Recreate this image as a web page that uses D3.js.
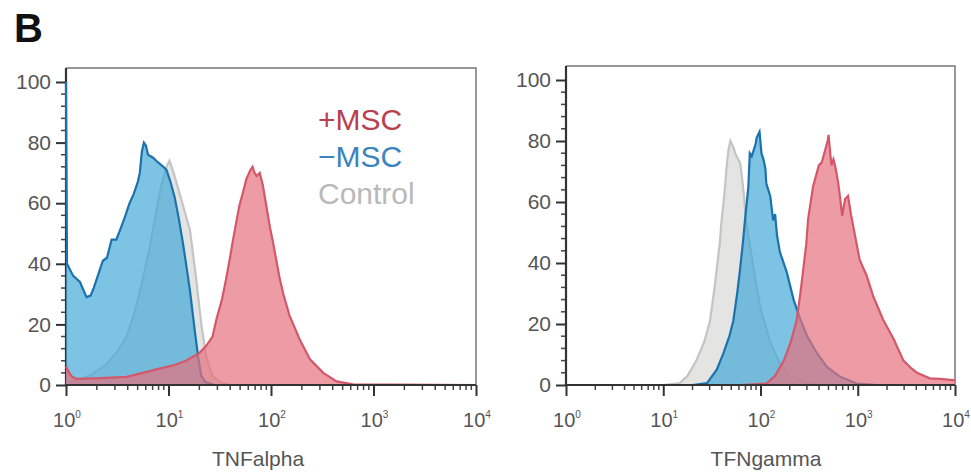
<!DOCTYPE html>
<html>
<head>
<meta charset="utf-8">
<script src="https://cdn.jsdelivr.net/npm/d3@7"></script>
<style>
  body { margin: 0; background: #fff; }
  svg { display: block; font-family: "Liberation Sans", Arial, sans-serif; }
</style>
</head>
<body>
<svg id="chart" width="971" height="475"></svg>
<script>
// [log10(intensity), % of max]
const tnfPlus = [[0,6],[0.05,3],[0.1,2],[0.3,2.2],[0.59,2.7],[0.75,4],[0.92,5.5],[1.05,6.5],[1.17,8],[1.3,10.5],[1.37,13],[1.43,16],[1.47,22],[1.52,28],[1.56,34.6],[1.6,42],[1.63,48],[1.69,59],[1.73,64],[1.76,68],[1.8,71],[1.82,72],[1.84,70],[1.86,69],[1.89,70],[1.92,66],[1.95,60],[1.99,52],[2.02,47],[2.08,36],[2.12,30],[2.18,23],[2.28,15],[2.38,8.5],[2.51,4],[2.64,1.2],[2.8,0.2],[4,0]];
const tnfMinus = [[0,100],[0.01,40],[0.07,36],[0.136,34],[0.2,29],[0.24,29.5],[0.27,32],[0.32,37],[0.36,41],[0.4,42],[0.445,48],[0.49,48],[0.526,51],[0.57,55],[0.62,60],[0.66,63],[0.7,67],[0.72,70],[0.74,77],[0.76,80],[0.78,79],[0.8,76],[0.85,75],[0.88,74],[0.915,73],[0.95,72],[0.98,71],[1.02,67],[1.06,62],[1.1,55],[1.14,47],[1.18,38],[1.21,31],[1.256,18],[1.29,9],[1.32,3],[1.36,1],[1.45,0]];
const tnfControl = [[0,1],[0.1,1.5],[0.23,3],[0.4,7],[0.5,11],[0.59,16],[0.67,24],[0.75,35],[0.82,46],[0.88,57],[0.93,66],[0.98,72],[1.01,74],[1.05,70],[1.11,63],[1.16,57],[1.21,51],[1.27,35],[1.32,20],[1.37,9],[1.43,3],[1.5,1],[1.6,0]];

const ifnPlus = [[1.8,0],[2.06,0.5],[2.15,3],[2.24,8],[2.31,14],[2.37,21],[2.41,30],[2.44,38],[2.47,46],[2.49,54.5],[2.54,65],[2.6,72],[2.63,73],[2.66,76.5],[2.69,80],[2.7,82],[2.72,75],[2.73,72],[2.75,74],[2.77,71.5],[2.8,66],[2.82,61],[2.84,55.5],[2.87,61],[2.9,62],[2.93,56],[2.96,51],[3.02,41],[3.09,36],[3.16,29],[3.26,21.5],[3.37,15],[3.47,8],[3.55,5.5],[3.61,4],[3.74,2.2],[3.85,2],[3.98,1.6],[4,1.6]];
const ifnMinus = [[1.3,0],[1.45,0.6],[1.55,5],[1.62,10.5],[1.68,16],[1.72,21],[1.76,30],[1.79,38],[1.82,47],[1.84,54],[1.875,65],[1.89,76],[1.91,75],[1.93,77],[1.95,79],[1.96,81],[1.99,83],[2.01,76],[2.03,74],[2.05,71],[2.06,66],[2.08,64],[2.1,62],[2.13,54],[2.15,56],[2.17,49],[2.2,43.5],[2.27,37],[2.34,28],[2.41,21.5],[2.48,16],[2.58,10.5],[2.68,6],[2.82,2.7],[2.99,0.5],[3.2,0]];
const ifnControl = [[1.0,0],[1.17,0.6],[1.25,3],[1.34,8],[1.42,14],[1.48,21],[1.52,30],[1.55,38],[1.58,46],[1.6,54],[1.63,63],[1.65,71],[1.67,77],[1.69,80],[1.72,78],[1.74,76],[1.77,74],[1.79,73],[1.81,68],[1.83,62],[1.85,54],[1.9,44],[1.95,34],[2.0,25],[2.1,14],[2.2,7],[2.3,3],[2.45,1],[2.6,0]];

const xDecades = [0, 1, 2, 3, 4];
const yTicks = [0, 20, 40, 60, 80, 100];
const legendLabels = ['+MSC', '\u2212MSC', 'Control'];

const colors = {
    plus:    { fill: '#e6707e', line: '#d4586a', text: '#b8404f' },
    minus:   { fill: '#45aad9', line: '#1c72ad', text: '#3b84bd' },
    control: { fill: '#d8d8d6', line: '#c4c4c4', text: '#b9b9b9' }
};

const svg = d3.select('#chart');

svg.append('text')
    .attr('x', 14).attr('y', 42)
    .style('font-size', '40px').style('font-weight', 'bold')
    .attr('fill', '#111')
    .text('B');

function drawPanel(id, box, series, label, labelX) {
    const x = d3.scaleLinear().domain([0, 4]).range([box.left, box.right]);
    const y = d3.scaleLinear().domain([0, 100]).range([box.bottom, box.y100]);
    const g = svg.append('g');

    g.append('clipPath').attr('id', 'clip-' + id)
        .append('rect')
        .attr('x', box.left - 2).attr('y', box.top)
        .attr('width', box.right - box.left + 2).attr('height', box.bottom - box.top);

    const area = d3.area().x(d => x(d[0])).y0(y(0)).y1(d => y(d[1]));
    const line = d3.line().x(d => x(d[0])).y(d => y(d[1]));

    // frame top/right
    g.append('path')
        .attr('d', `M${box.left},${box.top}H${box.right}V${box.bottom}`)
        .attr('fill', 'none').attr('stroke', '#777').attr('stroke-width', 1.5);

    // y axis
    const yMinor = d3.range(0, 101, 4).filter(v => v % 20 !== 0);
    const yAxis = g.append('g').attr('transform', `translate(${box.left},0)`)
        .call(d3.axisLeft(y).tickValues(yTicks).tickSize(10).tickPadding(5));
    yAxis.select('.domain').remove();
    yAxis.selectAll('.tick line').attr('stroke', '#333').attr('stroke-width', 2);
    yAxis.selectAll('.tick text').attr('fill', '#555').style('font-size', '21px');
    g.selectAll(null).data(yMinor).enter().append('line')
        .attr('x1', box.left - 5).attr('x2', box.left)
        .attr('y1', d => y(d)).attr('y2', d => y(d))
        .attr('stroke', '#444').attr('stroke-width', 1.5);
    g.append('line')
        .attr('x1', box.left).attr('x2', box.left)
        .attr('y1', box.top).attr('y2', box.bottom + 1)
        .attr('stroke', '#333').attr('stroke-width', 2.2);

    // x axis
    const xMinor = [];
    xDecades.slice(0, -1).forEach(dcd => {
        d3.range(2, 10).forEach(m => xMinor.push(dcd + Math.log10(m)));
    });
    const xAxis = g.append('g').attr('transform', `translate(0,${box.bottom})`)
        .call(d3.axisBottom(x).tickValues(xDecades).tickSize(11).tickFormat(''));
    xAxis.select('.domain').remove();
    xAxis.selectAll('.tick line').attr('stroke', '#333').attr('stroke-width', 2);
    g.selectAll(null).data(xMinor).enter().append('line')
        .attr('x1', d => x(d)).attr('x2', d => x(d))
        .attr('y1', box.bottom).attr('y2', box.bottom + 5)
        .attr('stroke', '#444').attr('stroke-width', 1.5);

    const plot = g.append('g').attr('clip-path', `url(#clip-${id})`);
    series.forEach(s => {
        plot.append('path').datum(s.data)
            .attr('d', area)
            .attr('fill', s.color.fill)
            .attr('fill-opacity', 0.7);
        plot.append('path').datum(s.data)
            .attr('d', line)
            .attr('fill', 'none')
            .attr('stroke', s.color.line)
            .attr('stroke-width', 2.2);
    });

    g.append('line')
        .attr('x1', box.left - 1).attr('x2', box.right)
        .attr('y1', box.bottom).attr('y2', box.bottom)
        .attr('stroke', '#333').attr('stroke-width', 2.2);

    const lbl = g.selectAll(null).data(xDecades).enter().append('text')
        .attr('x', d => x(d) + 1).attr('y', box.bottom + 42)
        .attr('text-anchor', 'middle')
        .attr('fill', '#555').style('font-size', '20px');
    lbl.append('tspan').text('10');
    lbl.append('tspan').attr('dy', -9).style('font-size', '10px').text(d => d);

    g.append('text')
        .attr('x', labelX).attr('y', box.bottom + 81)
        .attr('text-anchor', 'middle')
        .attr('fill', '#555').style('font-size', '21px')
        .text(label);

    return g;
}

const left = drawPanel('tnf', { left: 66, right: 476, top: 68, y100: 82, bottom: 385 }, [
    { data: tnfControl, color: colors.control },
    { data: tnfMinus, color: colors.minus },
    { data: tnfPlus, color: colors.plus }
], 'TNFalpha', 258);

drawPanel('ifn', { left: 566, right: 955, top: 66, y100: 80, bottom: 385 }, [
    { data: ifnControl, color: colors.control },
    { data: ifnMinus, color: colors.minus },
    { data: ifnPlus, color: colors.plus }
], 'TFNgamma', 766);

const legendColors = [colors.plus.text, colors.minus.text, colors.control.text];
left.selectAll('.legend').data(legendLabels).enter().append('text')
    .attr('class', 'legend')
    .attr('x', 318).attr('y', (d, i) => 130 + i * 37)
    .attr('fill', (d, i) => legendColors[i])
    .style('font-size', '30px')
    .text(d => d);
</script>
</body>
</html>
